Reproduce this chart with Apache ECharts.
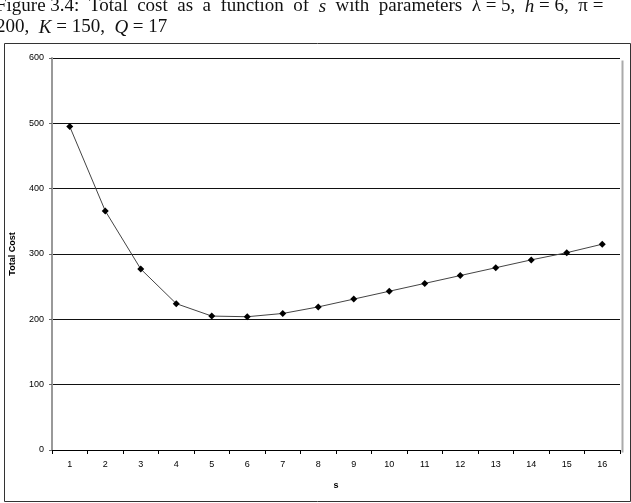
<!DOCTYPE html>
<html>
<head>
<meta charset="utf-8">
<script src="https://cdn.jsdelivr.net/npm/echarts@6/dist/echarts.min.js"></script>
<style>html,body{margin:0;padding:0;background:#fff}#c{width:631px;height:503px}</style>
</head>
<body>
<div id="c"></div>
<script>
const categories = ['1','2','3','4','5','6','7','8','9','10','11','12','13','14','15','16'];
const totalCost = [495, 366, 277, 224, 205, 204, 209, 219, 231, 243, 255, 267, 279, 291, 302, 315];
const yTicks = [0, 100, 200, 300, 400, 500, 600];

const chart = echarts.init(document.getElementById('c'));
const serif = '"Liberation Serif", "DejaVu Serif", serif';
const rich = {
  n: {fontFamily: serif, fontSize: 19, fill: '#111'},
  i: {fontFamily: serif, fontSize: 19, fontStyle: 'italic', fill: '#111'}
};
chart.setOption({
  animation: false,
  backgroundColor: '#fff',
  graphic: [
    {
      type: 'text', left: -4, top: -3,
      style: {
        text: '{n|Figure 3.4:  Total  cost  as  a  function  of  }{i|s}{n|  with  parameters  }{n|λ = 5,  }{i|h}{n| = 6,  π =}',
        rich: rich
      }
    },
    {
      type: 'text', left: -4, top: 18,
      style: {
        text: '{n|200,  }{i|K}{n| = 150,  }{i|Q}{n| = 17}',
        rich: rich
      }
    },
    {
      type: 'rect', left: 2, top: 41,
      shape: {width: 626, height: 458},
      style: {fill: 'none', stroke: '#333', lineWidth: 1}
    },
    {
      type: 'line', left: 620, top: 58,
      shape: {x1: 0, y1: 0, x2: 0, y2: 392},
      style: {stroke: '#aaa', lineWidth: 2}
    }
  ],
  grid: {left: 52, right: 11, top: 58, bottom: 53},
  xAxis: {
    type: 'category',
    data: categories,
    boundaryGap: true,
    name: 's',
    nameLocation: 'middle',
    nameGap: 31,
    nameTextStyle: {fontFamily: 'Liberation Sans, Arial', fontSize: 9, fontWeight: 'bold', color: '#000'},
    axisLine: {lineStyle: {color: '#000', width: 1}},
    axisTick: {show: true, length: 4, lineStyle: {color: '#000'}},
    axisLabel: {fontFamily: 'Liberation Sans, Arial', fontSize: 9, color: '#000', margin: 10}
  },
  yAxis: {
    type: 'value',
    min: 0, max: 600, interval: 100,
    name: 'Total Cost',
    nameLocation: 'middle',
    nameGap: 35,
    nameRotate: 90,
    nameTextStyle: {fontFamily: 'Liberation Sans, Arial', fontSize: 9, fontWeight: 'bold', color: '#000'},
    axisLine: {show: true, lineStyle: {color: '#999', width: 2}},
    axisTick: {show: true, length: 3, lineStyle: {color: '#666'}},
    axisLabel: {fontFamily: 'Liberation Sans, Arial', fontSize: 9, color: '#000', margin: 8},
    splitLine: {show: true, lineStyle: {color: '#111', width: 1}}
  },
  series: [{
    type: 'line',
    data: totalCost,
    symbol: 'diamond',
    symbolSize: 7,
    itemStyle: {color: '#000'},
    lineStyle: {color: '#444', width: 1}
  }]
});
</script>
</body>
</html>
